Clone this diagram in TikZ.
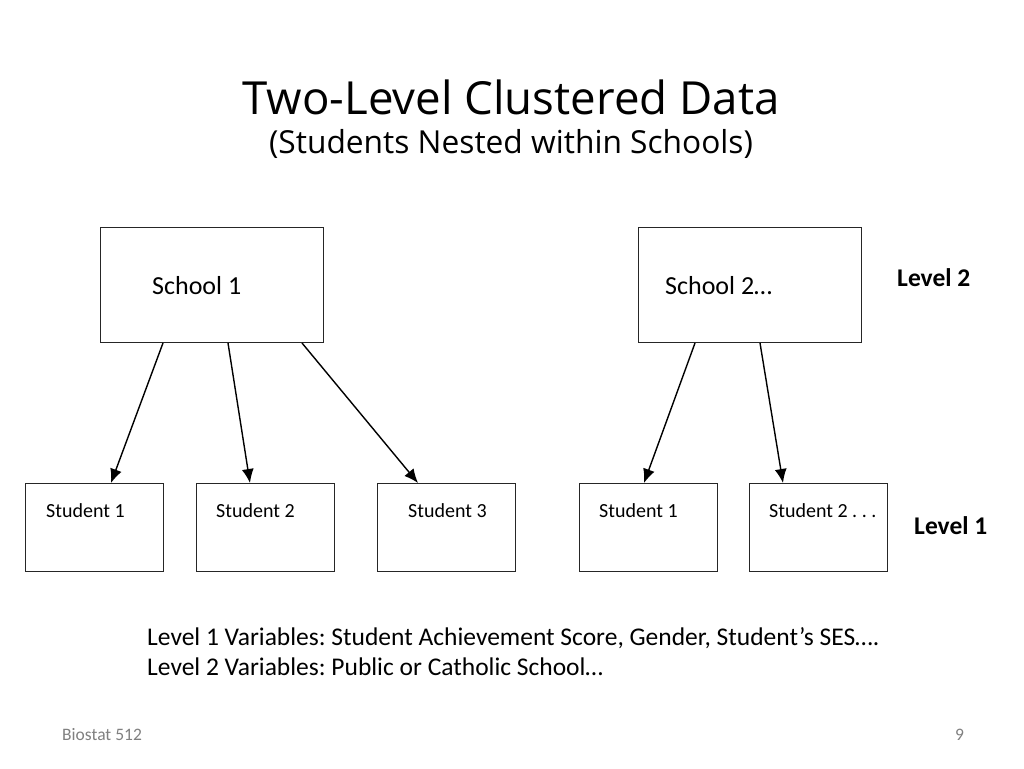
\documentclass[tikz,border=0pt]{standalone}
\usepackage{fontspec}
\setmainfont{Carlito}
\newfontfamily\titlefont{Open Sans}
\usetikzlibrary{arrows.meta,calc}
\frenchspacing
\begin{document}
\begin{tikzpicture}[x=1pt,y=-1pt,
  box/.style={draw=black!85,line width=1pt,inner sep=0pt,anchor=north west},
  schoolbox/.style={box,minimum width=223pt,minimum height=115pt},
  studbox/.style={box,minimum width=138pt,minimum height=88pt},
  lbl/.style={anchor=base west,inner sep=0pt},
  schooltxt/.style={lbl,font=\fontsize{26}{30}\selectfont},
  studtxt/.style={lbl,font=\fontsize{20}{24}\selectfont},
  leveltxt/.style={lbl,font=\bfseries\fontsize{25.5}{30}\selectfont},
  vartxt/.style={lbl,font=\fontsize{25.5}{30}\selectfont},
  foot/.style={lbl,font=\fontsize{17.5}{20}\selectfont,text=black!50},
  conn/.style={line width=1.4pt,-{Latex[length=14pt,width=12pt]}}]
\useasboundingbox[fill=white] (0,0) rectangle (1024,768);
% title
\node[anchor=base,inner sep=0pt,font=\titlefont\fontsize{45.6}{50}\selectfont] (title) at (511,114) {Two-Level Clustered Data};
\node[anchor=base,inner sep=0pt,font=\titlefont\fontsize{31.7}{36}\selectfont] (subtitle) at (511,153) {(Students Nested within Schools)};
% schools
\node[schoolbox] (s1) at (100,227) {};
\node[schoolbox] (s2) at (638,227) {};
\node[schooltxt] (s1t) at ($(s1.north west)+(52,67)$) {School 1};
\node[schooltxt] (s2t) at ($(s2.north west)+(27,67)$) {School 2…};
% students
\node[studbox] (a1) at (25,483) {};
\node[studbox] (a2) at (196,483) {};
\node[studbox] (a3) at (377,483) {};
\node[studbox] (b1) at (579,483) {};
\node[studbox] (b2) at (749,483) {};
\node[studtxt] (a1t) at ($(a1.north west)+(21,34)$) {Student 1};
\node[studtxt] (a2t) at ($(a2.north west)+(20,34)$) {Student 2};
\node[studtxt] (a3t) at ($(a3.north west)+(31,34)$) {Student 3};
\node[studtxt] (b1t) at ($(b1.north west)+(20,34)$) {Student 1};
\node[studtxt] (b2t) at ($(b2.north west)+(20,34)$) {Student 2 . . .};
% levels
\node[leveltxt] (lv2) at (897,286) {Level 2};
\node[leveltxt] (lv1) at (914,534) {Level 1};
% connectors
\draw[conn] ($(s1.south west)+(63,0)$) -- ($(a1.north west)+(86,0)$);
\draw[conn] ($(s1.south west)+(128,0)$) -- ($(a2.north west)+(54,0)$);
\draw[conn] ($(s1.south west)+(202,0)$) -- ($(a3.north west)+(41,0)$);
\draw[conn] ($(s2.south west)+(57,0)$) -- ($(b1.north west)+(65,0)$);
\draw[conn] ($(s2.south west)+(122,0)$) -- ($(b2.north west)+(34,0)$);
% variables
\node[vartxt] (v1) at (147,645) {Level 1 Variables: Student Achievement Score, Gender, Student’s SES….};
\node[vartxt] (v2) at (147,675) {Level 2 Variables: Public or Catholic School…};
% footer
\node[foot] (ft) at (62,740) {Biostat 512};
\node[foot] (pg) at (955,740) {9};
\end{tikzpicture}
\end{document}
